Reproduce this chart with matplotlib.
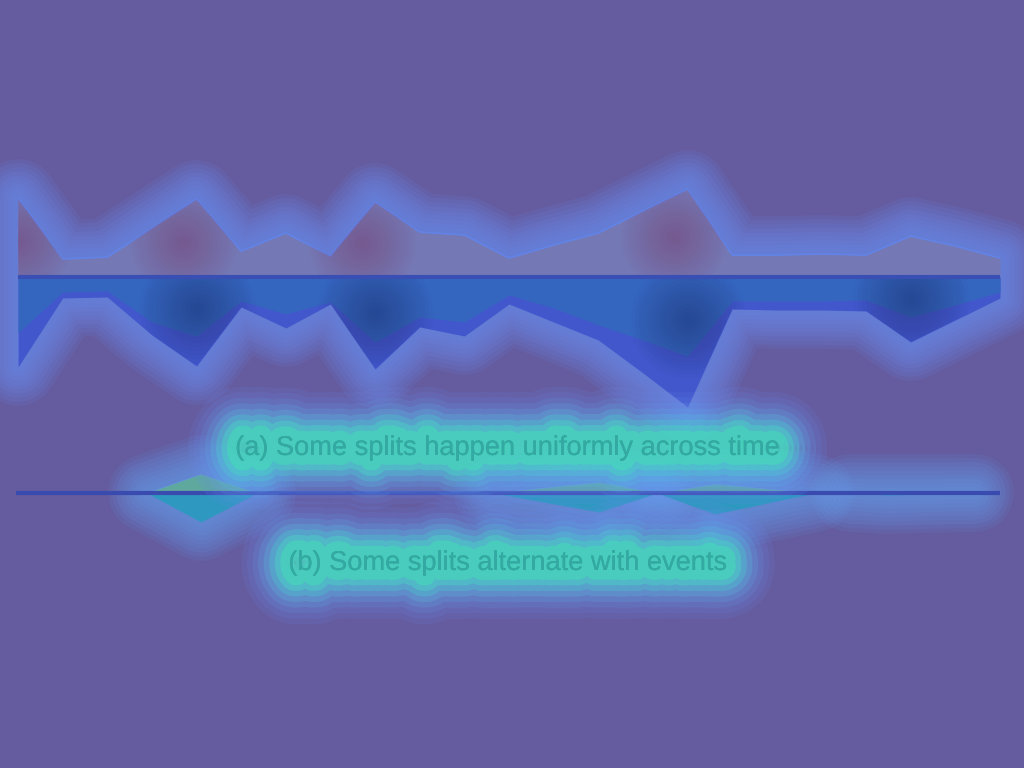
"""Split volume over time: two mirrored area panels with glow overlay."""
import matplotlib.pyplot as plt
import matplotlib.patheffects as pe

# ================== Data ================== #
# panel (a): 23 evenly spaced time steps
steps_a = list(range(23))
upper_a = [79, 18, 20, 49, 78, 26, 44, 21, 75, 45, 42, 19,
           32, 44, 66, 88, 22, 22, 23, 22, 41, 31, 19]
lower_inner_a = [56, 15, 14, 45, 59, 24, 37, 25, 65, 40, 45, 18,
                 31, 48, 63, 79, 24, 24, 24, 23, 40, 28, 15]
lower_outer_a = [90, 21, 20, 58, 89, 30, 51, 27, 92, 50, 59, 27,
                 45, 63, 96, 130, 32, 33, 33, 34, 65, 43, 21]
# time steps that the attention overlay lights up
hot_upper_a = [0, 4, 8, 15]
hot_lower_a = [4, 8, 15, 20]

# panel (b): irregular event times
times_b = [16, 147, 201, 257, 493, 599, 657, 715, 815, 850, 887, 975, 1000]
upper_b = [0, 0, 19, 0, 0, 11, 0, 9, 0, 0, 0, 0, 0]
lower_b = [0, 0, 29, 0, 0, 19, 0, 21, 0, 0, 2, 0, 0]

caption_a = "(a) Some splits happen uniformly across time"
caption_b = "(b) Some splits alternate with events"

BG = "#655b9f"
GLOW = "#6b8ff2"

plt.rcParams["font.family"] = ["Liberation Sans", "DejaVu Sans"]

fig = plt.figure(figsize=(10.24, 7.68), dpi=100)
fig.patch.set_facecolor(BG)


def px_axes(left, right, top, bottom):
    """Axes placed by pixel edges of the 1024x768 canvas."""
    return fig.add_axes([left / 1024, 1 - bottom / 768,
                         (right - left) / 1024, (bottom - top) / 768])


def glow(ax, xs, top, bottom, color=GLOW, widths=range(56, 2, -6), a=0.12):
    outline_x = list(xs) + list(xs)[::-1]
    outline_y = list(top) + [-v for v in bottom][::-1]
    for w in widths:
        ax.fill(outline_x, outline_y, facecolor=color, edgecolor=color,
                lw=w, alpha=a, joinstyle="round", clip_on=False, zorder=1)


def bumps(xs, top, bottom):
    """Split a series into its non-zero stretches (with the zero ends)."""
    out, cur = [], []
    for i in range(len(xs)):
        if top[i] or bottom[i]:
            if not cur and i > 0:
                cur.append(i - 1)
            cur.append(i)
        elif cur:
            cur.append(i)
            out.append(cur)
            cur = []
    return out


def hot_spot(ax, x, y, color, clip, size=6000, layers=14, a=0.045):
    # soft blob: stacked discs whose radius shrinks linearly
    for k in range(layers):
        r = 1 - k / layers
        dots = ax.scatter([x], [y], s=size * r * r, color=color,
                          alpha=a, lw=0, zorder=5)
        dots.set_clip_path(clip, ax.transData)


# ================== Panel (a) ================== #
ax_a = px_axes(18, 1000, 177, 417)
ax_a.set_xlim(0, 22)
ax_a.set_ylim(-140, 100)
glow(ax_a, steps_a, upper_a, lower_outer_a)
top_fill = ax_a.fill_between(steps_a, 0, upper_a, color="#7479b6", lw=0,
                             zorder=2)
ax_a.plot(steps_a, upper_a, color="#6283e6", lw=1.2, zorder=3)
outer_fill = ax_a.fill_between(steps_a, 0, [-v for v in lower_outer_a],
                               color="#4257cc", lw=0, zorder=2)
ax_a.fill_between(steps_a, 0, [-v for v in lower_inner_a],
                  color="#3466c0", lw=0, zorder=3)
for i in hot_upper_a:
    hot_spot(ax_a, i - 0.3 if i else i, upper_a[i] * 0.45, "#8a4470",
             top_fill.get_paths()[0])
for i in hot_lower_a:
    hot_spot(ax_a, i, -lower_inner_a[i] * 0.55, "#263470",
             outer_fill.get_paths()[0], size=7000)
ax_a.axhline(0, color="#3a4fb4", lw=3, zorder=6)

# ================== Panel (b) ================== #
ax_b = px_axes(16, 1000, 463, 533)
ax_b.set_xlim(16, 1000)
ax_b.set_ylim(-40, 30)
for idx in bumps(times_b, upper_b, lower_b):
    glow(ax_b, [times_b[i] for i in idx], [upper_b[i] for i in idx],
         [lower_b[i] for i in idx], color="#62a4f4", a=0.10)
ax_b.fill_between(times_b, 0, upper_b, color="#5ea89e", lw=0, zorder=2)
ax_b.fill_between(times_b, 0, [-v for v in lower_b],
                  color="#2e98c0", lw=0, zorder=2)
ax_b.axhline(0, color="#3a4bb0", lw=3, zorder=4)

for ax in (ax_a, ax_b):
    ax.set_facecolor("none")
    ax.axis("off")

# ================== Captions ================== #
text_glow = []
for w, c, a in [(70, "#6b8ff2", 0.12), (62, "#6b8ff2", 0.12),
                (54, "#62a4f2", 0.15), (46, "#5ab8f0", 0.18),
                (38, "#50cce4", 0.22), (30, "#48dad0", 0.28),
                (22, "#44e2c0", 0.35), (14, "#42e6b4", 0.45)]:
    text_glow.append(pe.withStroke(linewidth=w, foreground=c, alpha=a))
text_glow.append(pe.Normal())

for label, y in [(caption_a, 448), (caption_b, 563)]:
    fig.text(508 / 1024, 1 - y / 768, label, ha="center", va="center",
             fontsize=19.6, color="#34a8a2", path_effects=text_glow)

fig.savefig("out.png", dpi=100, facecolor=BG)
